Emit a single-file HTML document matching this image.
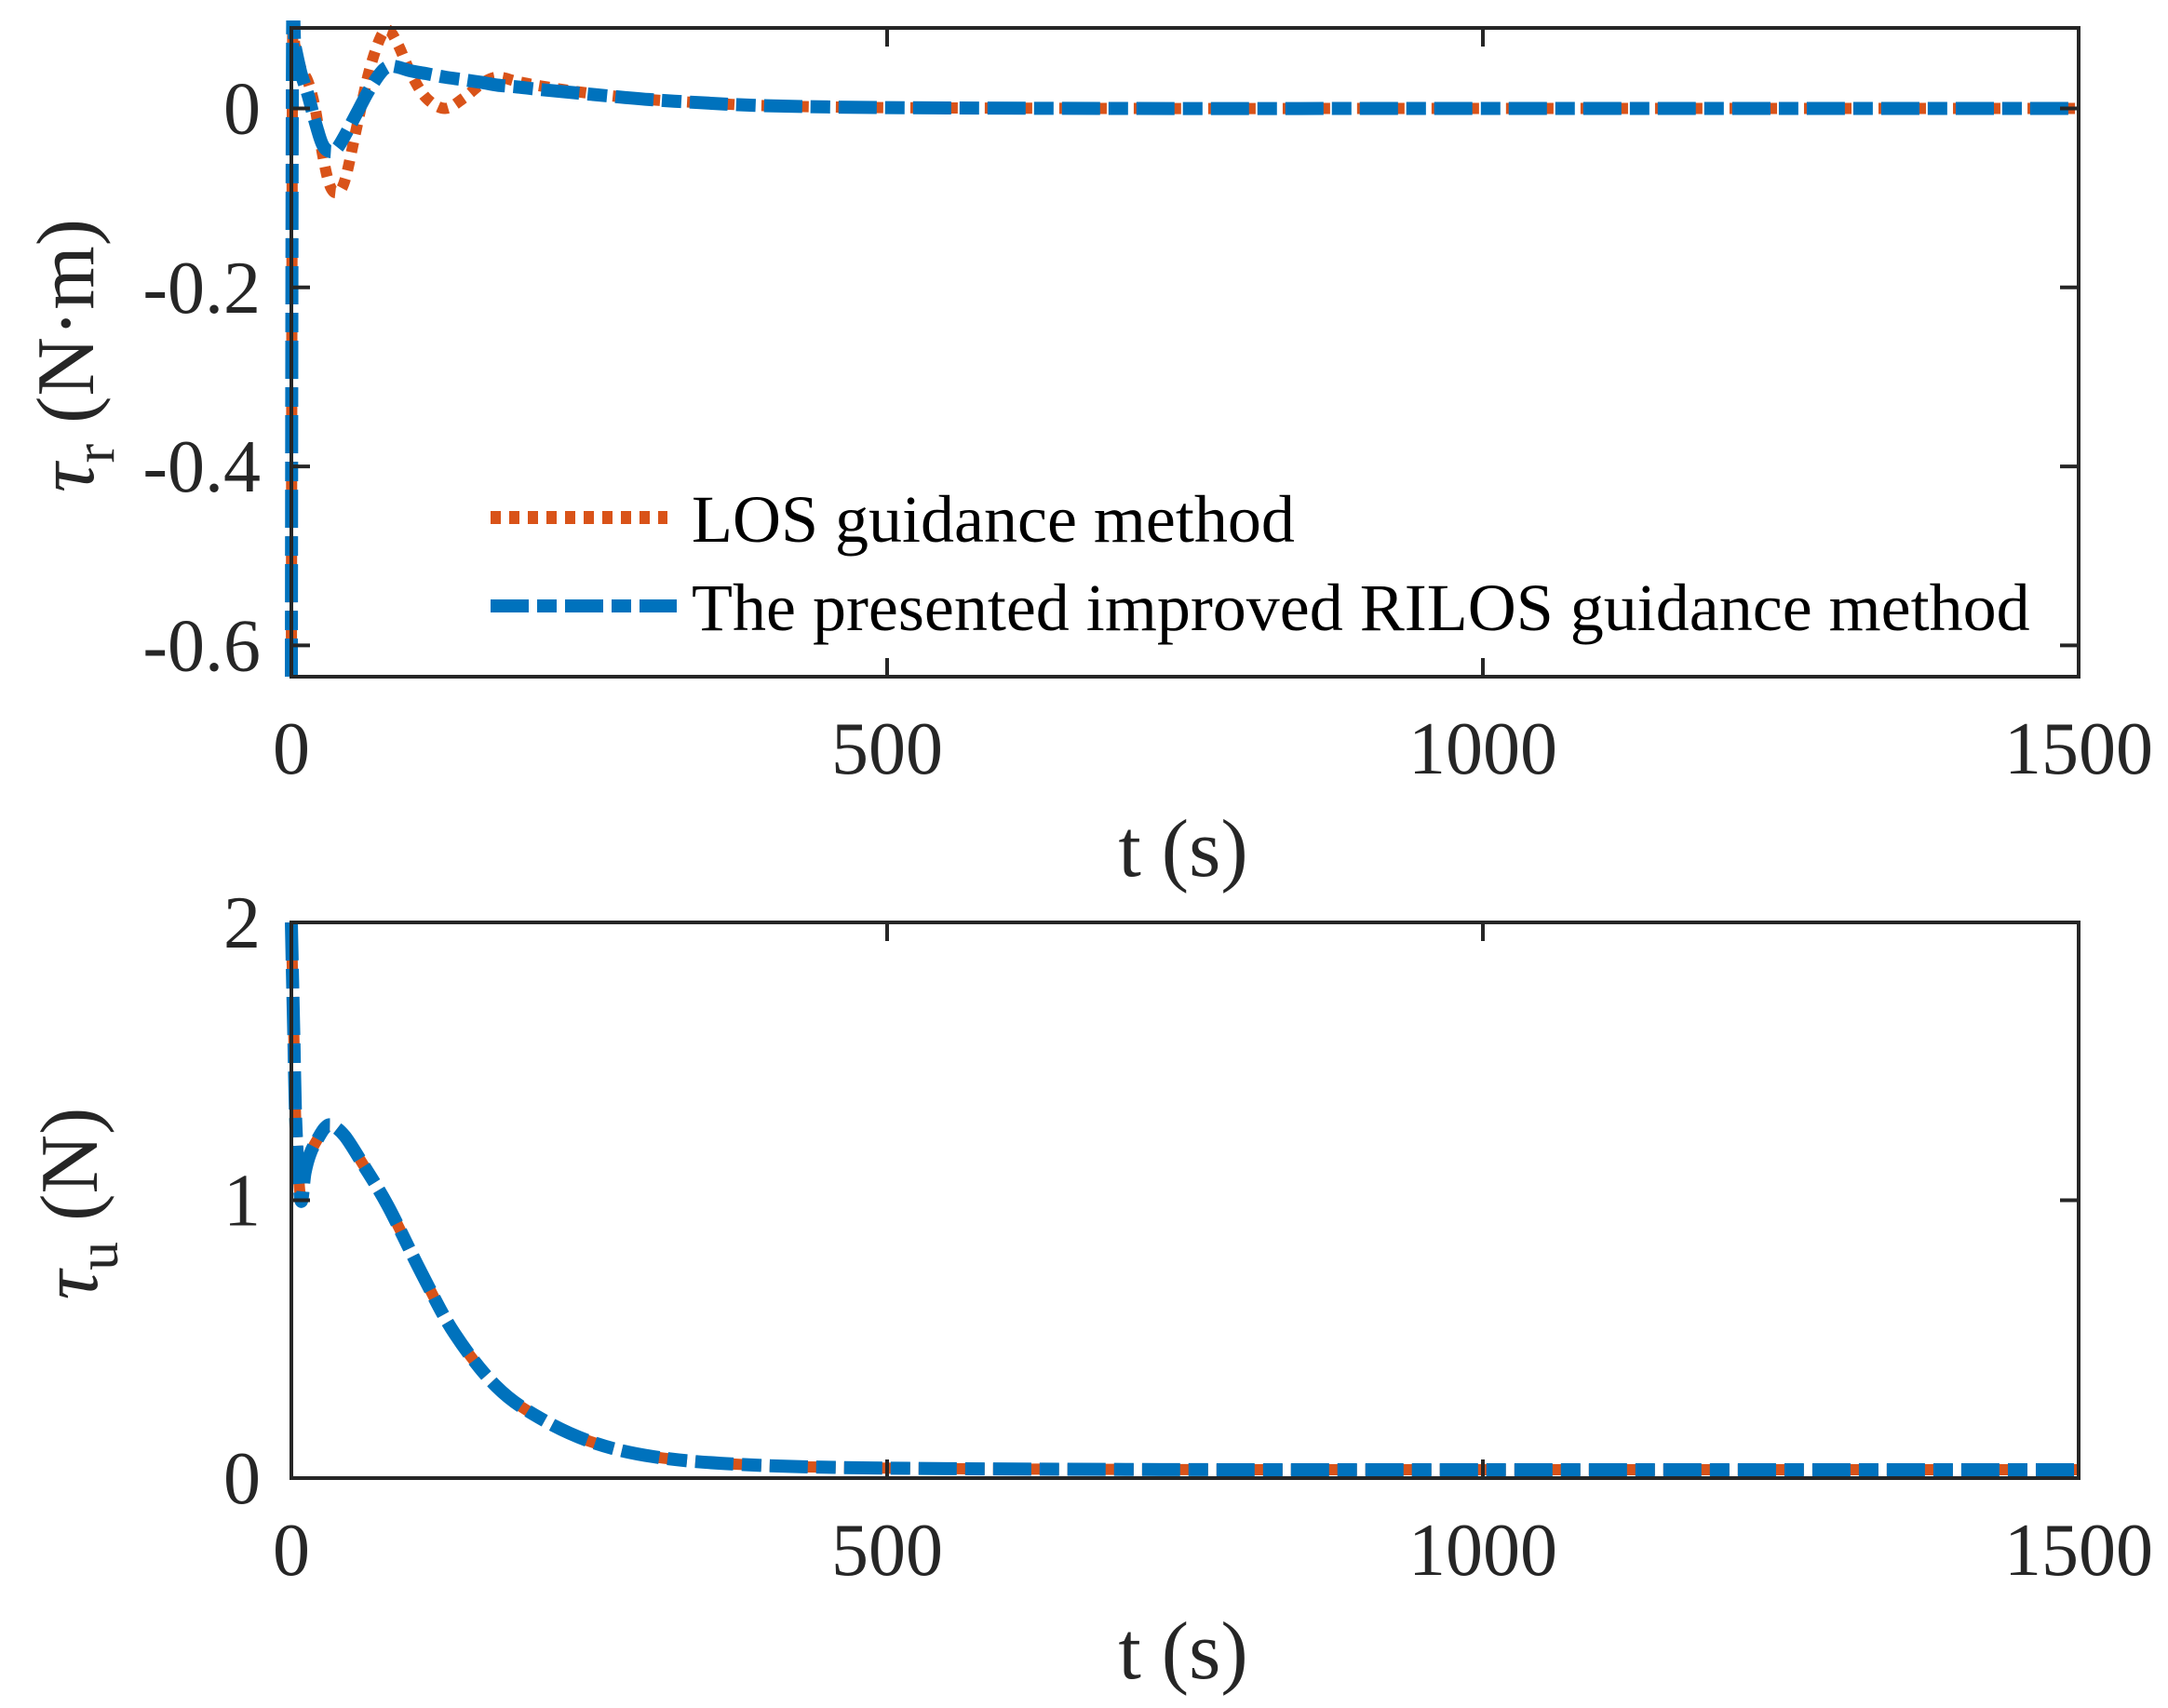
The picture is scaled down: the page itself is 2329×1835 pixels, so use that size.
<!DOCTYPE html>
<html><head><meta charset="utf-8"><style>
html,body{margin:0;padding:0;background:#fff;}
svg{display:block;font-family:"Liberation Serif",serif;}
</style></head><body>
<svg id="chart" width="2329" height="1835" viewBox="0 0 2329 1835" xmlns="http://www.w3.org/2000/svg">
<rect width="2329" height="1835" fill="#fff"/>
<g id="top"></g>
<g id="bot"></g>
<text transform="translate(100,382) rotate(-90)" text-anchor="middle" font-size="88" fill="#262626"><tspan font-style="italic">τ</tspan><tspan font-size="62" dy="22">r</tspan><tspan dy="-22"> (N·m)</tspan></text>
<text transform="translate(104,1293) rotate(-90)" text-anchor="middle" font-size="88" fill="#262626"><tspan font-style="italic">τ</tspan><tspan font-size="62" dy="22">u</tspan><tspan dy="-22"> (N)</tspan></text>
<text x="1271" y="941" text-anchor="middle" font-size="88" fill="#262626">t (s)</text>
<text x="1271" y="1803" text-anchor="middle" font-size="88" fill="#262626">t (s)</text>
<g>
<line x1="527" y1="556" x2="717" y2="556" stroke="#D95319" stroke-width="14" stroke-dasharray="11 9"/>
<text x="743" y="582" font-size="72" fill="#000">LOS guidance method</text>
<line x1="527" y1="651" x2="727" y2="651" stroke="#0072BD" stroke-width="14" stroke-dasharray="41 9 21 9"/>
<text x="743" y="677" font-size="72" fill="#000">The presented improved RILOS guidance method</text>
</g>
</svg>
<script>
const xTicks = [0, 500, 1000, 1500];
const topYTicks = [0, -0.2, -0.4, -0.6];
const topYTickLabels = ["0", "-0.2", "-0.4", "-0.6"];
const botYTicks = [0, 1, 2];
const botYTickLabels = ["0", "1", "2"];
const topT = [0, 1, 3, 8, 14, 20, 26, 32, 38, 45, 55, 65, 75, 82, 90, 100, 113, 129, 145, 160, 173, 190, 210, 250, 300, 350, 400, 500, 700, 1000, 1500];
const topLOS = [-0.635, 0.06, 0.07, 0.045, 0.03, 0.0, -0.05, -0.085, -0.094, -0.08, -0.02, 0.04, 0.08, 0.087, 0.07, 0.04, 0.012, 0.0, 0.012, 0.028, 0.035, 0.03, 0.025, 0.017, 0.01, 0.006, 0.003, 0.001, 0.0, 0.0, 0.0];
const topRILOS = [-0.635, 0.082, 0.07, 0.04, 0.015, -0.015, -0.04, -0.048, -0.045, -0.03, -0.005, 0.02, 0.04, 0.047, 0.046, 0.042, 0.039, 0.035, 0.032, 0.029, 0.026, 0.024, 0.021, 0.016, 0.01, 0.006, 0.003, 0.001, 0.0, 0.0, 0.0];
const botT = [0, 2, 4, 8, 11.5, 16, 22, 28, 34, 45, 60, 81, 109, 137, 172, 207, 252, 304, 374, 479, 700, 1000, 1500];
const botLOS = [2.0, 1.6, 1.25, 1.0, 1.1, 1.17, 1.22, 1.26, 1.27, 1.23, 1.13, 0.98, 0.74, 0.52, 0.33, 0.22, 0.13, 0.077, 0.05, 0.037, 0.031, 0.03, 0.03];
const botRILOS = [2.0, 1.6, 1.25, 1.0, 1.1, 1.17, 1.22, 1.26, 1.27, 1.23, 1.13, 0.98, 0.74, 0.52, 0.33, 0.22, 0.13, 0.077, 0.05, 0.037, 0.031, 0.03, 0.03];

const NS = "http://www.w3.org/2000/svg";
function mk(tag, attrs, parent){const e=document.createElementNS(NS,tag);for(const k in attrs)e.setAttribute(k,attrs[k]);parent.appendChild(e);return e;}
function smoothPath(pts){
  let d="M"+pts[0][0].toFixed(1)+","+pts[0][1].toFixed(1);
  for(let i=0;i<pts.length-1;i++){
    const p0=pts[Math.max(0,i-1)],p1=pts[i],p2=pts[i+1],p3=pts[Math.min(pts.length-1,i+2)];
    const c1=[p1[0]+(p2[0]-p0[0])/6,p1[1]+(p2[1]-p0[1])/6];
    const c2=[p2[0]-(p3[0]-p1[0])/6,p2[1]-(p3[1]-p1[1])/6];
    d+=" C"+c1[0].toFixed(1)+","+c1[1].toFixed(1)+" "+c2[0].toFixed(1)+","+c2[1].toFixed(1)+" "+p2[0].toFixed(1)+","+p2[1].toFixed(1);
  }
  return d;
}
function panel(g, top, bottom, ymin, ymax, yTicks, yLabels, T, s1, s2, prefix){
  const L=313, R=2233;
  const xs=t=>L+(t-0)/1500*(R-L);
  const ys=v=>bottom-(v-ymin)/(ymax-ymin)*(bottom-top);
  const clip=mk("clipPath",{id:prefix+"clip"},g);
  mk("rect",{x:L-8,y:top-8,width:R-L+16,height:bottom-top+16},clip);
  const p1=mk("path",{d:smoothPath(T.map((t,i)=>[xs(t),ys(s1[i])])),fill:"none",stroke:"#D95319","stroke-width":12,"stroke-dasharray":"11 9","clip-path":"url(#"+prefix+"clip)"},g);
  
  
  const p2=mk("path",{d:smoothPath(T.map((t,i)=>[xs(t),ys(s2[i])])),fill:"none",stroke:"#0072BD","stroke-width":14,"stroke-dasharray":"41 9 21 9","clip-path":"url(#"+prefix+"clip)"},g);
  
  
  const box=mk("rect",{x:L,y:top,width:R-L,height:bottom-top,fill:"none",stroke:"#262626","stroke-width":4},g);
  
  
  xTicks.forEach(t=>{
    const x=xs(t);
    mk("line",{x1:x,y1:bottom,x2:x,y2:bottom-20,stroke:"#262626","stroke-width":4},g);
    mk("line",{x1:x,y1:top,x2:x,y2:top+20,stroke:"#262626","stroke-width":4},g);
    const tx=mk("text",{x:x,y:bottom+104,"text-anchor":"middle","font-size":80,fill:"#262626"},g);
    tx.textContent=String(t);
    
    
  });
  yTicks.forEach((v,i)=>{
    const y=ys(v);
    mk("line",{x1:L,y1:y,x2:L+20,y2:y,stroke:"#262626","stroke-width":4},g);
    mk("line",{x1:R,y1:y,x2:R-20,y2:y,stroke:"#262626","stroke-width":4},g);
    const tx=mk("text",{x:280,y:y+27,"text-anchor":"end","font-size":80,fill:"#262626"},g);
    tx.textContent=yLabels[i];
    
    
  });
}
panel(document.getElementById("top"),30,727,-0.635,0.09,topYTicks,topYTickLabels,topT,topLOS,topRILOS,"top");
panel(document.getElementById("bot"),991,1588,0,2,botYTicks,botYTickLabels,botT,botLOS,botRILOS,"bottom");
</script>
</body></html>
